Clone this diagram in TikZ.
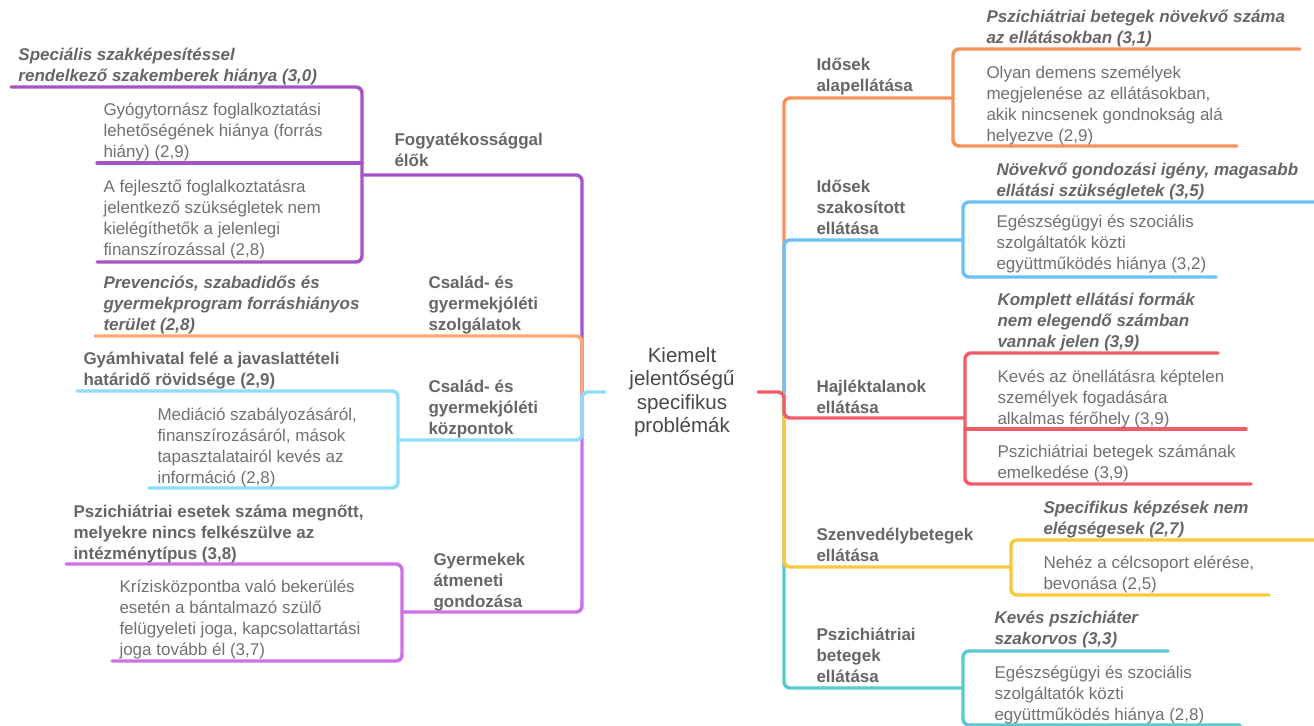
\documentclass[tikz,border=0pt]{standalone}
\usepackage{fontspec}
\setmainfont{Liberation Sans}

\definecolor{lilaSotet}{RGB}{166,82,200}
\definecolor{lilaVilagos}{RGB}{208,112,232}
\definecolor{narancsBal}{RGB}{250,170,112}
\definecolor{kekBal}{RGB}{140,220,250}
\definecolor{narancsJobb}{RGB}{247,146,90}
\definecolor{kekJobb}{RGB}{108,192,247}
\definecolor{piros}{RGB}{244,91,105}
\definecolor{sarga}{RGB}{250,200,60}
\definecolor{turkiz}{RGB}{92,200,207}
\definecolor{levelSzurke}{RGB}{112,112,112}
\definecolor{agSzurke}{RGB}{102,102,102}
\definecolor{kozepSzurke}{RGB}{72,72,72}

\tikzset{every picture/.style={line width=0.75pt}}
\tikzset{
  ag/.style={line width=2.6pt, line cap=round, rounded corners=4.5pt},
  level/.style={anchor=base west, inner sep=0pt, align=left, text=levelSzurke, font=\fontsize{12.75}{15.75}\selectfont},
  levelfej/.style={level, text=agSzurke, font=\fontsize{12.75}{15.75}\selectfont\bfseries\itshape},
  levelkiemelt/.style={level, text=agSzurke, font=\fontsize{12.75}{15.75}\selectfont\bfseries},
  temakor/.style={level, text=agSzurke, font=\fontsize{12.75}{15.75}\selectfont\bfseries},
  kozep/.style={inner sep=0pt, align=center, text=kozepSzurke, font=\fontsize{15.4}{17.6}\selectfont},
}

\begin{document}
\begin{tikzpicture}[x=0.75pt,y=0.75pt,yscale=-1,xscale=1]
	\useasboundingbox (0,0) rectangle (1314,725);

	%Connector points, left side
	\coordinate (kl) at (605,392);
	\coordinate (tl) at (582,392);
	\coordinate (fogy-b) at (362,175);
	\coordinate (speci-e) at (11,87);
	\coordinate (gyogy-e) at (97,163);
	\coordinate (fejl-e) at (97,262);
	\coordinate (prev-e) at (95,336);
	\coordinate (kozp-b) at (398,440);
	\coordinate (gyam-e) at (77,391);
	\coordinate (medi-e) at (149,488);
	\coordinate (atm-b) at (402,612);
	\coordinate (pszl-e) at (66,564);
	\coordinate (kriz-e) at (112,661);
	%Connector points, right side
	\coordinate (kr) at (758,392);
	\coordinate (tr) at (784,392);
	\coordinate (alap-b) at (953,98);
	\coordinate (pszn-e) at (1300,49);
	\coordinate (olyan-e) at (1237,146);
	\coordinate (szak-b) at (963,240);
	\coordinate (novk-e) at (1318,202);
	\coordinate (egsz-e) at (1216,277);
	\coordinate (hajl-b) at (965,418);
	\coordinate (kompl-e) at (1218,353);
	\coordinate (keves-e) at (1246,429);
	\coordinate (pszr-e) at (1251,484);
	\coordinate (szen-b) at (1011,567);
	\coordinate (spec-e) at (1318,540);
	\coordinate (neh-e) at (1269,595);
	\coordinate (pszb-b) at (963,688);
	\coordinate (kevp-e) at (1168,651);
	\coordinate (egb-e) at (1240,725);

	%Straight Lines, left branches
	\draw [ag, lilaSotet] (tl) |- (fogy-b) ;
	\draw [ag, lilaSotet] (speci-e) -| (fogy-b) |- (fejl-e) ;
	\draw [ag, lilaSotet] (gyogy-e) -- (gyogy-e -| fogy-b) ;
	\draw [ag, lilaVilagos] (tl) |- (atm-b) ;
	\draw [ag, lilaVilagos] (pszl-e) -| (atm-b) |- (kriz-e) ;
	\draw [ag, narancsBal] (tl) |- (prev-e) ;
	\draw [ag, kekBal] (kl) -- (tl) |- (kozp-b) ;
	\draw [ag, kekBal] (gyam-e) -| (kozp-b) |- (medi-e) ;

	%Straight Lines, right branches
	\draw [ag, turkiz] (tr) |- (pszb-b) ;
	\draw [ag, turkiz] (kevp-e) -| (pszb-b) |- (egb-e) ;
	\draw [ag, sarga] (tr) |- (szen-b) ;
	\draw [ag, sarga] (spec-e) -| (szen-b) |- (neh-e) ;
	\draw [ag, piros] (kr) -- (tr) |- (hajl-b) ;
	\draw [ag, piros] (kompl-e) -| (hajl-b) |- (pszr-e) ;
	\draw [ag, piros] (keves-e) -- (keves-e -| hajl-b) ;
	\draw [ag, narancsJobb] (tr) |- (alap-b) ;
	\draw [ag, narancsJobb] (pszn-e) -| (alap-b) |- (olyan-e) ;
	\draw [ag, kekJobb] (tr) |- (szak-b) ;
	\draw [ag, kekJobb] (novk-e) -| (szak-b) |- (egsz-e) ;

	% Text Node
	\node [kozep] (kiemelt) at (682,392) {Kiemelt\\jelentőségű\\specifikus\\problémák};

	% Text Node (anchored at the baseline of the last line)
	\node [levelfej] (speci) at (18,81) {Speciális szakképesítéssel\\rendelkező szakemberek hiánya (3,0)};
	% Text Node
	\node [level] (gyogy) at (103,157) {Gyógytornász foglalkoztatási\\lehetőségének hiánya (forrás\\hiány) (2,9)};
	% Text Node
	\node [level] (fejl) at (103,255) {A fejlesztő foglalkoztatásra\\jelentkező szükségletek nem\\kielégíthetők a jelenlegi\\finanszírozással (2,8)};
	% Text Node
	\node [temakor] (fogy) at (394,166) {Fogyatékossággal\\élők};
	% Text Node
	\node [levelfej] (prev) at (103,330) {Prevenciós, szabadidős és\\gyermekprogram forráshiányos\\terület (2,8)};
	% Text Node
	\node [temakor] (szolg) at (428,330) {Család- és\\gyermekjóléti\\szolgálatok};
	% Text Node
	\node [levelkiemelt] (gyam) at (83,385) {Gyámhivatal felé a javaslattételi\\határidő rövidsége (2,9)};
	% Text Node
	\node [temakor] (kozp) at (428,434) {Család- és\\gyermekjóléti\\központok};
	% Text Node
	\node [level] (medi) at (157,483) {Mediáció szabályozásáról,\\finanszírozásáról, mások\\tapasztalatairól kevés az\\információ (2,8)};
	% Text Node
	\node [levelkiemelt] (pszl) at (73,559) {Pszichiátriai esetek száma megnőtt,\\melyekre nincs felkészülve az\\intézménytípus (3,8)};
	% Text Node
	\node [temakor] (atm) at (433,607) {Gyermekek\\átmeneti\\gondozása};
	% Text Node
	\node [level] (kriz) at (119,655) {Krízisközpontba való bekerülés\\esetén a bántalmazó szülő\\felügyeleti joga, kapcsolattartási\\joga tovább él (3,7)};

	% Text Node
	\node [levelfej] (pszn) at (986,43) {Pszichiátriai betegek növekvő száma\\az ellátásokban (3,1)};
	% Text Node
	\node [temakor] (alap) at (816,91) {Idősek\\alapellátása};
	% Text Node
	\node [level] (olyan) at (986,141) {Olyan demens személyek\\megjelenése az ellátásokban,\\akik nincsenek gondnokság alá\\helyezve (2,9)};
	% Text Node
	\node [levelfej] (novk) at (996,196) {Növekvő gondozási igény, magasabb\\ellátási szükségletek (3,5)};
	% Text Node
	\node [temakor] (szak) at (816,234) {Idősek\\szakosított\\ellátása};
	% Text Node
	\node [level] (egsz) at (996,269) {Egészségügyi és szociális\\szolgáltatók közti\\együttműködés hiánya (3,2)};
	% Text Node
	\node [levelfej] (kompl) at (997,347) {Komplett ellátási formák\\nem elegendő számban\\vannak jelen (3,9)};
	% Text Node
	\node [temakor] (hajl) at (816,413) {Hajléktalanok\\ellátása};
	% Text Node
	\node [level] (keves) at (997,424) {Kevés az önellátásra képtelen\\személyek fogadására\\alkalmas férőhely (3,9)};
	% Text Node
	\node [level] (pszr) at (997,478) {Pszichiátriai betegek számának\\emelkedése (3,9)};
	% Text Node
	\node [levelfej] (spec) at (1043,534) {Specifikus képzések nem\\elégségesek (2,7)};
	% Text Node
	\node [temakor] (szen) at (816,561) {Szenvedélybetegek\\ellátása};
	% Text Node
	\node [level] (neh) at (1043,589) {Nehéz a célcsoport elérése,\\bevonása (2,5)};
	% Text Node
	\node [levelfej] (kevp) at (994,644) {Kevés pszichiáter\\szakorvos (3,3)};
	% Text Node
	\node [temakor] (pszb) at (816,682) {Pszichiátriai\\betegek\\ellátása};
	% Text Node
	\node [level] (egb) at (994,720) {Egészségügyi és szociális\\szolgáltatók közti\\együttműködés hiánya (2,8)};

\end{tikzpicture}
\end{document}
